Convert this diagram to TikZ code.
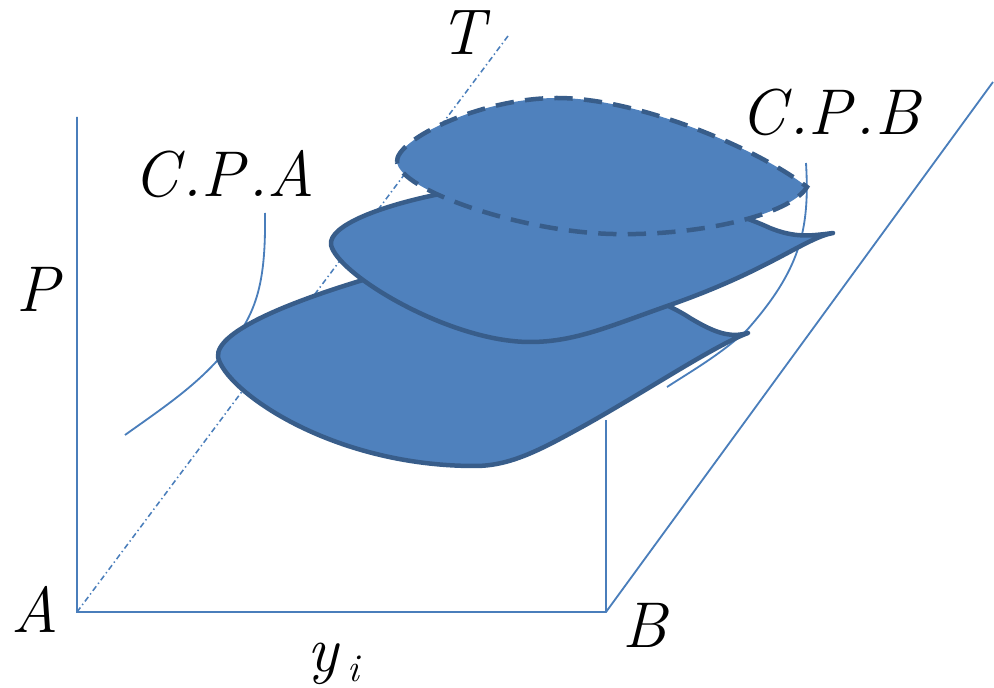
\documentclass[tikz,border=0pt]{standalone}
\definecolor{fillblue}{HTML}{4F81BD}
\definecolor{edgeblue}{HTML}{385D8A}
\definecolor{lineblue}{HTML}{4A7EBB}
\tikzset{
  axisline/.style={draw=lineblue, line width=1.3pt},
  tline/.style={draw=lineblue, line width=1.1pt, dash pattern=on 4pt off 2.2pt on 1pt off 2.2pt},
  leaf/.style={fill=fillblue, draw=edgeblue, line width=3.2pt, line join=round, line cap=round},
  leafdashed/.style={fill=fillblue, draw=edgeblue, line width=3.2pt, dash pattern=on 13pt off 8pt},
  lbl/.style={font=\fontsize{46}{50}\selectfont\itshape, inner sep=0pt, anchor=base},
  sublbl/.style={font=\fontsize{28}{32}\selectfont\itshape, inner sep=0pt, anchor=base},
}
\begin{document}
\begin{tikzpicture}[x=0.025cm,y=-0.025cm]
\useasboundingbox (0,0) rectangle (994,688);
% coordinates
\coordinate (O) at (77,612);
\coordinate (Bc) at (606,612);
\coordinate (Ptop) at (77,117);
\coordinate (Ttop) at (508,36);
\coordinate (Dtop) at (993,82);
\coordinate (Bup) at (606,420);
\coordinate (cpaS) at (265,213);
\coordinate (cpaE) at (125,435);
\coordinate (cpbS) at (806,163);
\coordinate (cpbE) at (667,387);
% axes
\draw[axisline] (Ptop) -- (O) -- (Bc) -- (Dtop);
\draw[axisline] (Bc) -- (Bup);
\draw[tline] (O) -- (Ttop);
% critical point curves
\draw[axisline] (cpaS) .. controls (266,290) and (255,320) .. (216,362)
   .. controls (190,390) and (160,410) .. (cpaE);
\draw[axisline] (cpbS) .. controls (810,230) and (800,270) .. (747,330)
   .. controls (720,355) and (690,372) .. (cpbE);
% lower leaf
\path[leaf] (218,357) .. controls (215,330) and (300,298) .. (380,275)
  .. controls (500,245) and (640,285) .. (690,318)
  .. controls (715,333) and (730,338) .. (748,333)
  .. controls (715,345) and (640,395) .. (580,428)
  .. controls (540,450) and (510,466) .. (475,466)
  .. controls (330,466) and (225,390) .. (218,357) -- cycle;
% middle leaf
\path[leaf] (331,245) .. controls (328,226) and (380,205) .. (450,192)
  .. controls (600,170) and (720,205) .. (770,228)
  .. controls (795,238) and (810,236) .. (833,233)
  .. controls (805,238) and (770,270) .. (670,305)
  .. controls (610,326) and (575,342) .. (530,342)
  .. controls (450,342) and (338,275) .. (331,245) -- cycle;
% top leaf (dashed)
\path[leafdashed] (397,162) .. controls (395,140) and (480,98) .. (557,98)
  .. controls (640,98) and (760,150) .. (807,187)
  .. controls (790,215) and (700,236) .. (613,234)
  .. controls (520,232) and (400,190) .. (397,162) -- cycle;
% labels
\node[lbl] (lA) at (35,632) {A};
\node[lbl] (lB) at (645,647) {B};
\node[lbl] (lP) at (38,312) {P};
\node[lbl] (lT) at (462,55) {T};
\node[lbl] (lCPA) at (224,197) {C\hspace{0.06em}.P\hspace{0.06em}.A};
\node[lbl] (lCPB) at (830,135) {C\hspace{0.06em}.P\hspace{0.06em}.B};
\node[lbl] (ly) at (323,671) {y};
\node[sublbl] (li) at (353,681) {i};
\end{tikzpicture}
\end{document}
